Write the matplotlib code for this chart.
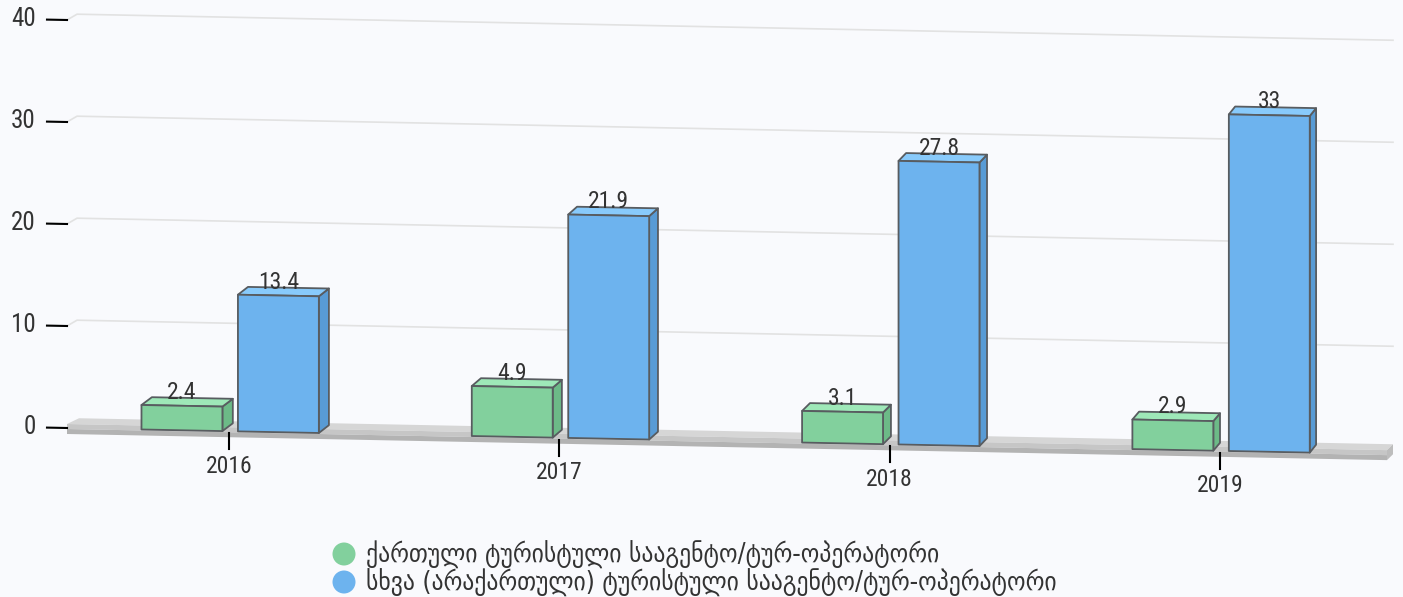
"""
3D-style grouped bar chart: Georgian vs foreign tour operators, 2016-2019.
"""

import numpy as np
import matplotlib
matplotlib.use("Agg")
import matplotlib.pyplot as plt
from matplotlib import font_manager as fm
from matplotlib.patches import Polygon, Ellipse
from matplotlib.transforms import Affine2D

# ---- data ----
years = ["2016", "2017", "2018", "2019"]
georgian_ops = [2.4, 4.9, 3.1, 2.9]
foreign_ops = [13.4, 21.9, 27.8, 33]
series_names = [
    "ქართული ტურისტული სააგენტო/ტურ-ოპერატორი",
    "სხვა (არაქართული) ტურისტული სააგენტო/ტურ-ოპერატორი",
]
y_ticks = [0, 10, 20, 30, 40]

# ---- style ----
BG = "#f9fafd"
TEXT = "#333333"
EDGE = "#585c60"
GRID = "#e2e2e2"
# (front, top, side)
GREEN = ("#82d09d", "#9ee8b8", "#6cba87")
BLUE = ("#6db3ee", "#88cafb", "#589bd5")

names = {f.name for f in fm.fontManager.ttflist}
num_family = "Roboto Condensed" if "Roboto Condensed" in names else "Roboto"
num_size = 17 if num_family == "Roboto Condensed" else 15.5

cond = [f for f in fm.fontManager.ttflist
        if f.name.startswith("DejaVu Sans") and "Mono" not in f.name
        and (f.stretch == "condensed" or "Condensed" in f.name)
        and f.style == "normal" and f.weight in (400, "normal", "book", "regular")]
if cond:
    leg_font = fm.FontProperties(fname=cond[0].fname, size=18.9)
else:
    leg_font = fm.FontProperties(family="DejaVu Sans", size=16.8)

W, H = 1403, 597
fig = plt.figure(figsize=(W / 100, H / 100), dpi=100, facecolor=BG)
ax = fig.add_axes([67 / W, 169 / H, 1326 / W, 408 / H])
ax.set_xlim(-0.4905, 3.524)
ax.set_ylim(0, 40)
ax.axis("off")

xl, xr = ax.get_xlim()
kx = ax.bbox.width / (xr - xl)     # px per category
ky = ax.bbox.height / 40.0         # px per unit
PX, PY = 1 / kx, 1 / ky

# floor slopes down to the right -> shear in display space
S = 0.0198
x0_px = ax.bbox.x0
shear = Affine2D(np.array([[1, 0, 0], [-S, 1, S * x0_px], [0, 0, 1]]))
T = ax.transData + shear


def depth_px(xd):
    """horizontal depth offset of a 3D box, shrinks to the right"""
    px = ax.transData.transform((xd, 0))[0]
    return 11 - 5 * (px - x0_px) / 1326.0


# grid on the back wall + y ticks
for v in y_ticks:
    if v > 0:
        ax.plot([xl, xl + 10 * PX, xr], [v, v + 6 * PY, v + 6 * PY], transform=T,
                color=GRID, lw=1.2, clip_on=False, zorder=1)
    ax.plot([xl - 20 * PX, xl], [v, v], transform=T, color="black", lw=1.5,
            clip_on=False, zorder=4)
    ax.text(xl - 31 * PX, v, str(v), transform=T, ha="right", va="center",
            family=num_family, fontsize=num_size + 1, color=TEXT)

# floor slab
xr_f = xr - 6 * PX
top = [(xl, 4 * PY), (xr_f, 4 * PY), (xr, 10 * PY), (xl + 12 * PX, 10 * PY)]
ax.add_patch(Polygon(top, closed=True, transform=T, fc="#d6d6d6", ec="none",
                     clip_on=False, zorder=2))
ax.add_patch(Polygon([(xl, -1 * PY), (xr_f, -1 * PY), (xr_f, 4 * PY), (xl, 4 * PY)],
                     transform=T, fc="#c6c6c6", ec="none", clip_on=False, zorder=2))
ax.add_patch(Polygon([(xl, -6 * PY), (xr_f, -6 * PY), (xr_f, -1 * PY), (xl, -1 * PY)],
                     transform=T, fc="#b3b3b3", ec="none", clip_on=False, zorder=2))
ax.add_patch(Polygon([(xr_f, -6 * PY), (xr, 0), (xr, 10 * PY), (xr_f, 4 * PY)],
                     transform=T, fc="#bdbdbd", ec="none", clip_on=False, zorder=2))

# category ticks and labels
x = np.arange(len(years))
for i, yr in zip(x, years):
    ax.plot([i, i], [-2 * PY, -18 * PY], transform=T, color="black", lw=1.5,
            clip_on=False, zorder=2)
    ax.text(i, -35 * PY, yr, transform=T, ha="center", va="center",
            family=num_family, fontsize=num_size, color=TEXT)

bar_w = 0.245
offsets = [-0.265, 0.027]


def draw_box(x0, h, cols, z):
    x1 = x0 + bar_w
    ddx, ddy = depth_px(x1) * PX, 8 * PY
    side = [(x1, 0), (x1 + ddx, ddy), (x1 + ddx, h + ddy), (x1, h)]
    topf = [(x0, h), (x1, h), (x1 + ddx, h + ddy), (x0 + ddx, h + ddy)]
    front = [(x0, 0), (x1, 0), (x1, h), (x0, h)]
    for pts, c in ((side, cols[2]), (topf, cols[1]), (front, cols[0])):
        ax.add_patch(Polygon(pts, closed=True, transform=T, fc=c, ec=EDGE, lw=1.3,
                             joinstyle="round", clip_on=False, zorder=z))
    ax.text((x0 + x1) / 2, h + 7 * PY, f"{h:g}", transform=T, ha="center",
            va="baseline", family=num_family, fontsize=num_size, color=TEXT,
            zorder=z + 0.5)


for i in x:
    draw_box(i + offsets[0], georgian_ops[i], GREEN, 3 + i)
    draw_box(i + offsets[1], foreign_ops[i], BLUE, 3 + i + 0.2)

# legend (two rows, circle marker + label)
for row, (name, cols) in enumerate(zip(series_names, (GREEN, BLUE))):
    cy = 554 + 28 * row
    fig.patches.append(Ellipse((344 / W, 1 - cy / H), 23 / W, 23 / H,
                               transform=fig.transFigure, fc=cols[0], ec="none"))
    fig.text(366 / W, 1 - (cy + 9) / H, name, fontproperties=leg_font,
             color=TEXT, ha="left", va="baseline")

fig.savefig("out.png", dpi=100, facecolor=BG)
